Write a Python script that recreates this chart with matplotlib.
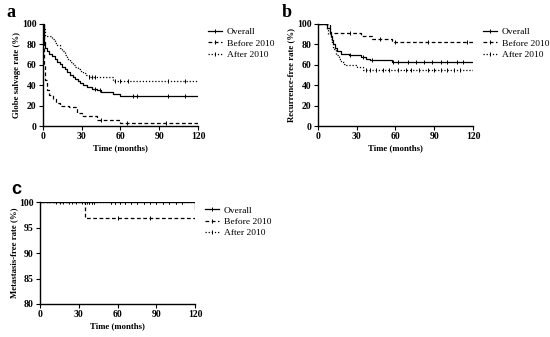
import numpy as np
import matplotlib.pyplot as plt
from matplotlib.lines import Line2D

plt.rcParams['font.family'] = ['Liberation Serif', 'DejaVu Serif']

# panel a: globe salvage
a_overall_t = [0, 0.5, 1, 2, 3, 5, 7, 9, 11, 13, 15, 17, 19, 21, 23, 25, 27, 29, 31, 34, 38, 42, 45, 54, 55, 60, 120]
a_overall_y = [100, 90, 82, 76, 73, 71, 69, 66, 63, 61, 58, 56, 53, 50, 48, 46, 44, 42, 40, 38, 36, 35, 33, 31, 31, 29, 29]
a_before_t = [0, 0.5, 1, 2, 3, 5, 8, 10, 13, 20, 26, 30, 42, 60, 120]
a_before_y = [100, 80, 60, 45, 35, 30, 26, 23, 20, 19, 13, 10, 6, 3, 3]
a_after_t = [0, 1, 2, 7, 9, 11, 13, 15, 17, 19, 21, 23, 25, 27, 29, 31, 33, 36, 46, 54, 120]
a_after_y = [100, 95, 88, 85, 81, 79, 76, 73, 70, 66, 63, 60, 58, 56, 54, 52, 50, 48, 48, 44, 44]
a_overall_c = [40, 44, 70, 73, 97, 110]
a_before_c = [45, 65, 95]
a_after_c = [36, 38, 40, 56, 60, 66, 97, 110]

# panel b: recurrence-free
b_overall_t = [0, 5, 7, 9, 10, 11, 12, 13, 15, 18, 24, 33, 37, 40, 56, 57, 120]
b_overall_y = [100, 100, 96, 92, 88, 84, 80, 76, 73, 71, 70, 68, 66, 65, 65, 63, 63]
b_before_t = [0, 8, 9, 30, 33, 42, 56, 57, 120]
b_before_y = [100, 100, 91, 91, 88, 85, 85, 82, 82]
b_after_t = [0, 5, 7, 8, 10, 11, 12, 14, 16, 18, 20, 22, 30, 35, 120]
b_after_y = [100, 100, 95, 90, 85, 80, 75, 70, 66, 63, 61, 60, 58, 55, 55]
b_overall_c = [25, 35, 42, 58, 62, 70, 76, 82, 88, 95, 100, 108, 112]
b_before_c = [25, 48, 60, 85, 115]
b_after_c = [37, 40, 45, 50, 55, 62, 68, 72, 78, 85, 90, 95, 100, 105, 110]

# panel c: metastasis-free
c_overall_t = [0, 35, 120]
c_overall_y = [100, 100, 98.7]
c_before_t = [0, 35, 120]
c_before_y = [100, 96.9, 96.9]
c_after_t = [0, 120]
c_after_y = [100, 100]
c_overall_c = [36, 38, 40, 42, 55, 58, 62, 66, 70, 75, 80, 85, 90, 95, 100, 105, 110]
c_before_c = [60, 85]
c_after_c = [12, 15, 18, 22, 25, 28, 32, 35, 38, 40, 42, 55, 58, 62, 66, 70, 75, 80, 85, 90, 95, 100, 105, 110]

styles = [('Overall', '-'), ('Before 2010', (0, (3, 2))), ('After 2010', (0, (1, 1.5)))]


def step_val(t, y, x):
    i = np.searchsorted(t, x, side='right') - 1
    return np.array(y)[i]


def km_panel(ax, curves, letter, ylabel, yticks, ylim, lpos, letter_family='Liberation Serif'):
    for (t, y, c), (name, ls) in zip(curves, styles):
        ax.step(t, y, where='post', color='black', lw=0.9, ls=ls)
        ax.plot(c, step_val(t, y, c), ls='none', marker='|', ms=3, mew=0.7, color='black')
    ax.set_xlim(0, 120)
    ax.set_ylim(*ylim)
    ax.set_xticks([0, 30, 60, 90, 120])
    ax.set_yticks(yticks)
    for s in ['top', 'right']:
        ax.spines[s].set_visible(False)
    for s in ['left', 'bottom']:
        ax.spines[s].set_linewidth(1.0)
    ax.tick_params(labelsize=7, length=3, width=0.8, pad=1.5)
    for lab in ax.get_xticklabels() + ax.get_yticklabels():
        lab.set_fontweight('bold')
    ax.set_xlabel('Time (months)', fontsize=6.3, fontweight='bold', labelpad=2)
    ax.set_ylabel(ylabel, fontsize=6.3, fontweight='bold', labelpad=1)
    ax.text(lpos[0], lpos[1], letter, transform=ax.transAxes, fontsize=13, fontweight='bold',
            va='bottom', family=letter_family)
    handles = [Line2D([0], [0], color='black', lw=0.9, ls=ls, marker='|', ms=3, mew=0.7) for _, ls in styles]
    ax.legend(handles, [n for n, _ in styles], loc='upper left', bbox_to_anchor=(1.04, 1.0),
              borderaxespad=0, frameon=False, fontsize=6.8, handlelength=1.5,
              handletextpad=0.5, labelspacing=0.3)


fig = plt.figure(figsize=(5.5, 3.37), dpi=100)
ax_a = fig.add_axes([0.078, 0.626, 0.282, 0.303])
ax_b = fig.add_axes([0.578, 0.626, 0.282, 0.303])
ax_c = fig.add_axes([0.073, 0.098, 0.282, 0.302])

km_panel(ax_a, [(a_overall_t, a_overall_y, a_overall_c), (a_before_t, a_before_y, a_before_c),
                (a_after_t, a_after_y, a_after_c)],
         'a', 'Globe salvage rate (%)', [0, 20, 40, 60, 80, 100], (0, 100), (-0.235, 1.03))
km_panel(ax_b, [(b_overall_t, b_overall_y, b_overall_c), (b_before_t, b_before_y, b_before_c),
                (b_after_t, b_after_y, b_after_c)],
         'b', 'Recurrence-free rate (%)', [0, 20, 40, 60, 80, 100], (0, 100), (-0.235, 1.03))
km_panel(ax_c, [(c_overall_t, c_overall_y, c_overall_c), (c_before_t, c_before_y, c_before_c),
                (c_after_t, c_after_y, c_after_c)],
         'c', 'Metastasis-free rate (%)', [80, 85, 90, 95, 100], (80, 100), (-0.185, 1.04),
         letter_family='Liberation Sans')

fig.savefig('out.png', dpi=100)
